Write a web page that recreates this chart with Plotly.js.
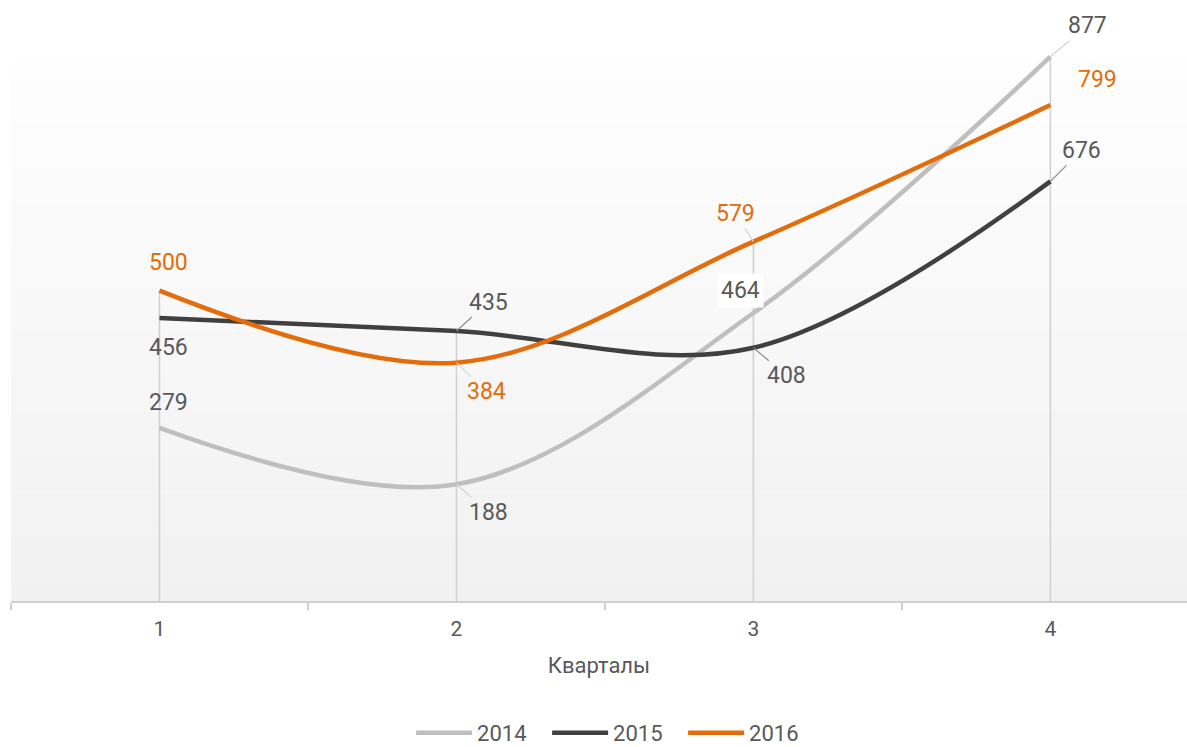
<!DOCTYPE html>
<html>
<head>
<meta charset="utf-8">
<script src="https://cdn.plot.ly/plotly-3.0.1.min.js"></script>
<style>
  html, body { margin: 0; padding: 0; background: #ffffff; }
  #chart { width: 1187px; height: 747px; }
</style>
</head>
<body>
<div id="chart"></div>
<script>
// ---- data ----
const quarters = ['1', '2', '3', '4'];
const seriesNames = ['2014', '2015', '2016'];
const values2014 = [279, 188, 464, 877];
const values2015 = [456, 435, 408, 676];
const values2016 = [500, 384, 579, 799];
const xAxisTitle = 'Кварталы';

// ---- styles ----
const seriesValues = [values2014, values2015, values2016];
const lineColors = ['#bfbfbf', '#404040', '#e46c0a'];
const labelColors = ['#595959', '#595959', '#e46c0a'];
const leaderColors = ['#d4d4d4', '#8c8c8c', '#d4d4d4'];
const textColor = '#595959';
const FONT = 'Roboto, "Open Sans", Arial, sans-serif';

// label offsets (pixels, label centre relative to its point) and leader flags
const labelOffsets = [
  [[9, -25], [32, 28], [-13, -23], [37, -31]],
  [[9, 30], [32, -29], [33, 28], [31, -31]],
  [[9, -28], [30, 29], [-18, -28], [47, -26]]
];
const leaderOn = [
  [false, true, false, true],
  [false, true, true, true],
  [false, true, true, false]
];

const yMax = 968.3;     // axis range top
const bgTop = 871.6;    // top of shaded plot area

// drop lines from the highest value at each quarter down to the axis
const dropX = [], dropY = [];
quarters.forEach((q, i) => {
  const m = Math.max(values2014[i], values2015[i], values2016[i]);
  dropX.push(q, q, null);
  dropY.push(m, 0, null);
});

const traces = [{
  x: dropX, y: dropY, type: 'scatter', mode: 'lines',
  line: { color: '#d0d0d0', width: 1.5 },
  hoverinfo: 'skip', showlegend: false
}];
seriesNames.forEach((name, s) => {
  traces.push({
    x: quarters, y: seriesValues[s], name: name,
    type: 'scatter', mode: 'lines',
    line: { color: lineColors[s], width: 4.5, shape: 'spline', smoothing: 1 },
    hoverinfo: 'x+y+name'
  });
});

// gradient background bands
const shapes = [];
const N = 60;
const cTop = [254, 254, 254], cBot = [241, 241, 241];
for (let k = 0; k < N; k++) {
  const t = (k + 0.5) / N;
  const c = cBot.map((b, j) => Math.round(b + (cTop[j] - b) * t));
  shapes.push({
    type: 'rect', layer: 'below', xref: 'paper', yref: 'y',
    x0: 0, x1: 1, y0: bgTop * k / N, y1: bgTop * (k + 1) / N + 0.5,
    line: { width: 0 }, fillcolor: `rgb(${c[0]},${c[1]},${c[2]})`
  });
}

const annotations = [];
seriesNames.forEach((name, s) => {
  quarters.forEach((q, i) => {
    const off = labelOffsets[s][i];
    const a = {
      x: i, y: seriesValues[s][i], xref: 'x', yref: 'y',
      text: String(seriesValues[s][i]),
      font: { family: FONT, size: 23, color: labelColors[s] },
      showarrow: true, arrowhead: 0, arrowwidth: 1.2, standoff: 0,
      arrowcolor: leaderOn[s][i] ? leaderColors[s] : 'rgba(0,0,0,0)',
      ax: off[0], ay: off[1], borderpad: 1
    };
    if (s === 0 && i === 2) { a.bgcolor = '#ffffff'; a.borderpad = 3; }
    annotations.push(a);
  });
});

const layout = {
  width: 1187, height: 747,
  margin: { l: 11, r: 0, t: 0, b: 146, autoexpand: false },
  paper_bgcolor: '#ffffff', plot_bgcolor: 'rgba(0,0,0,0)',
  font: { family: FONT, size: 21, color: textColor },
  xaxis: {
    type: 'category', categoryorder: 'array', categoryarray: quarters,
    range: [-0.5, 3.46], fixedrange: true, automargin: false,
    showline: true, linecolor: '#d0d0d0', linewidth: 1.5,
    ticks: 'outside', tickson: 'boundaries', ticklen: 7, tickwidth: 1.2, tickcolor: '#d0d0d0',
    ticklabelstandoff: 8,
    showgrid: false, zeroline: false,
    tickfont: { family: FONT, size: 21, color: textColor },
    title: { text: xAxisTitle, font: { family: FONT, size: 22, color: textColor }, standoff: 18 }
  },
  yaxis: { range: [0, yMax], visible: false, fixedrange: true, showgrid: false, zeroline: false },
  showlegend: true,
  legend: {
    orientation: 'h', x: 0.5137, xanchor: 'center', y: -0.2196, yanchor: 'middle',
    font: { family: FONT, size: 22, color: textColor },
    itemwidth: 56, entrywidth: 65, entrywidthmode: 'pixels',
    traceorder: 'normal', bgcolor: 'rgba(0,0,0,0)'
  },
  shapes: shapes,
  annotations: annotations
};

Plotly.newPlot('chart', traces, layout, { displayModeBar: false, staticPlot: true });
</script>
</body>
</html>
